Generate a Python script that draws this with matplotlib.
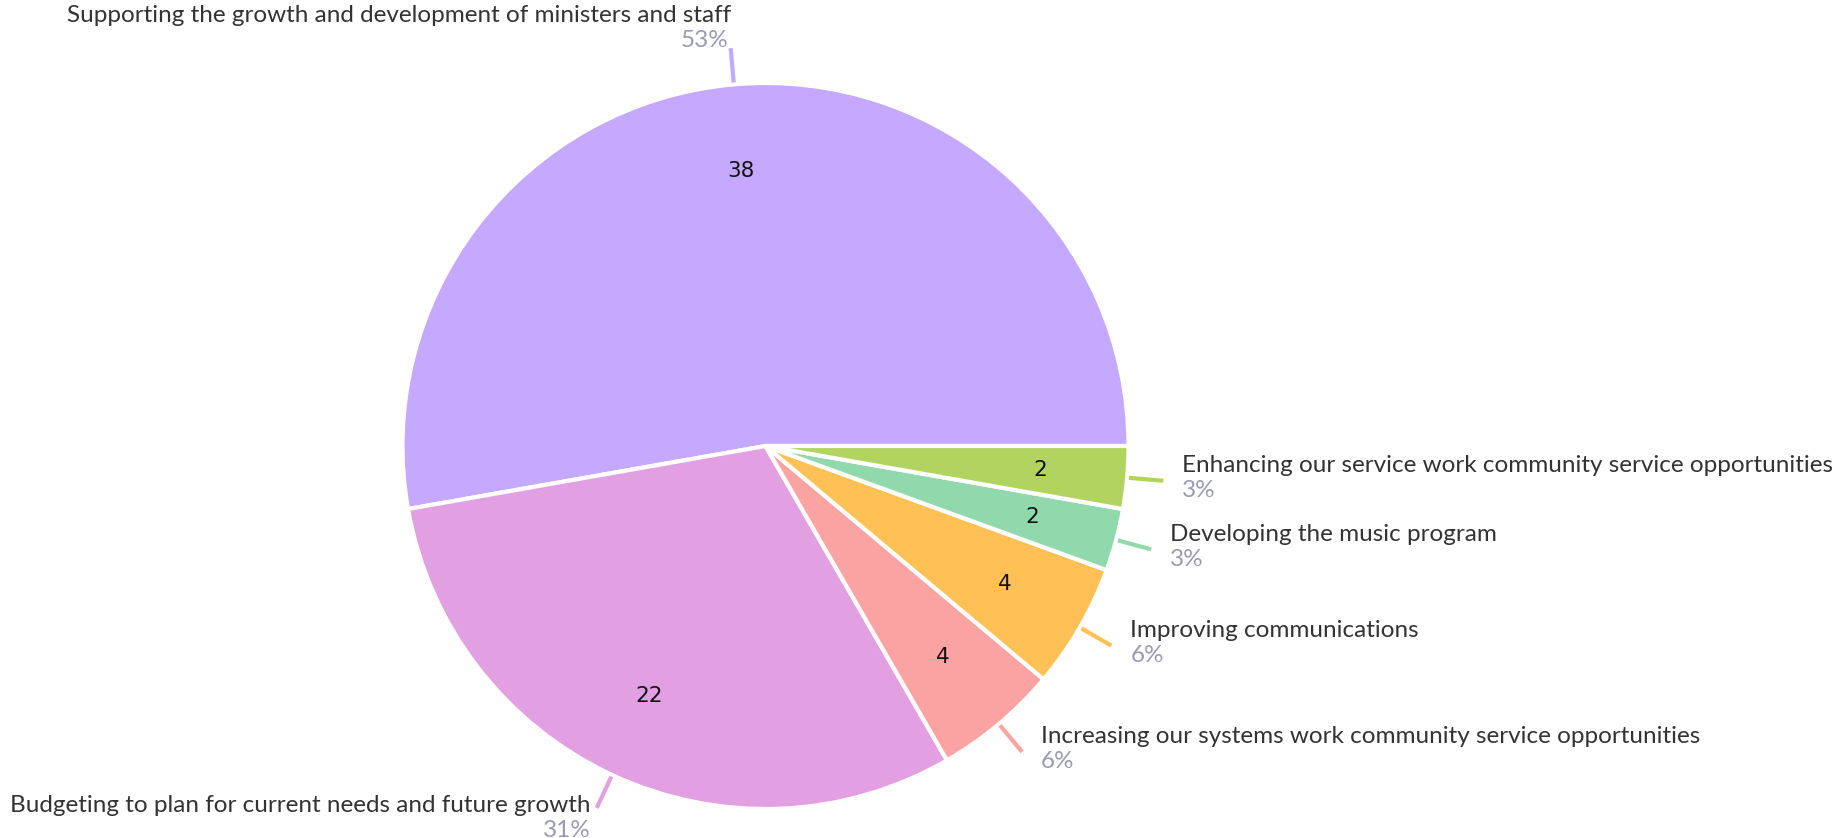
import matplotlib.pyplot as plt
import numpy as np

# Data
labels = ['Supporting the growth and development of ministers and staff',
          'Budgeting to plan for current needs and future growth',
          'Increasing our systems work community service opportunities',
          'Improving communications',
          'Developing the music program',
          'Enhancing our service work community service opportunities']
counts = [38, 22, 4, 4, 2, 2]
colors = ['#C5A8FF', '#E2A0E3', '#FBA3A3', '#FFC155', '#91D9AD', '#B1D460']

plt.rcParams['font.family'] = ['Lato', 'DejaVu Sans']

W, H = 1841, 838
fig = plt.figure(figsize=(W / 100, H / 100), dpi=100)
ax = fig.add_axes([0, 0, 1, 1])

cx, cy, r = 765.5, 392, 363
wedges, texts = ax.pie(counts, colors=colors, startangle=0, counterclock=True,
                       center=(cx, cy), radius=r, labels=[str(c) for c in counts],
                       labeldistance=0.76, frame=True,
                       wedgeprops=dict(edgecolor='white', linewidth=3),
                       textprops=dict(fontsize=15.5, color='#111111', family='DejaVu Sans'))
for t in texts:
    t.set_ha('center')
    t.set_va('center')
ax.set_xlim(0, W)
ax.set_ylim(0, H)
ax.set_aspect('equal')
ax.axis('off')

fs = 17.5
total = sum(counts)
for w, lab, c, col in zip(wedges, labels, counts, colors):
    ang = np.deg2rad((w.theta1 + w.theta2) / 2)
    x0, y0 = cx + r * 1.005 * np.cos(ang), cy + r * 1.005 * np.sin(ang)
    x1, y1 = cx + r * 1.1 * np.cos(ang), cy + r * 1.1 * np.sin(ang)
    ax.plot([x0, x1], [y0, y1], color=col, lw=3, solid_capstyle='butt')
    pct = f'{round(100 * c / total)}%'
    if np.sin(ang) > 0.9:
        # top label: text sits above the leader line
        ax.text(x1, y1 + 33, lab, ha='right', va='center', fontsize=fs, color='#333333')
        ax.text(x1 - 2, y1 + 8, pct, ha='right', va='center', fontsize=fs, color='#9A9AB4')
    elif np.cos(ang) < 0:
        ax.text(x1 - 6, y1 + 2, lab, ha='right', va='center', fontsize=fs, color='#333333')
        ax.text(x1 - 6, y1 - 23, pct, ha='right', va='center', fontsize=fs, color='#9A9AB4')
    else:
        ax.text(x1 + 19, y1 + 15, lab, ha='left', va='center', fontsize=fs, color='#333333')
        ax.text(x1 + 19, y1 - 10, pct, ha='left', va='center', fontsize=fs, color='#9A9AB4')

fig.savefig('out.png', dpi=100, facecolor='white')
